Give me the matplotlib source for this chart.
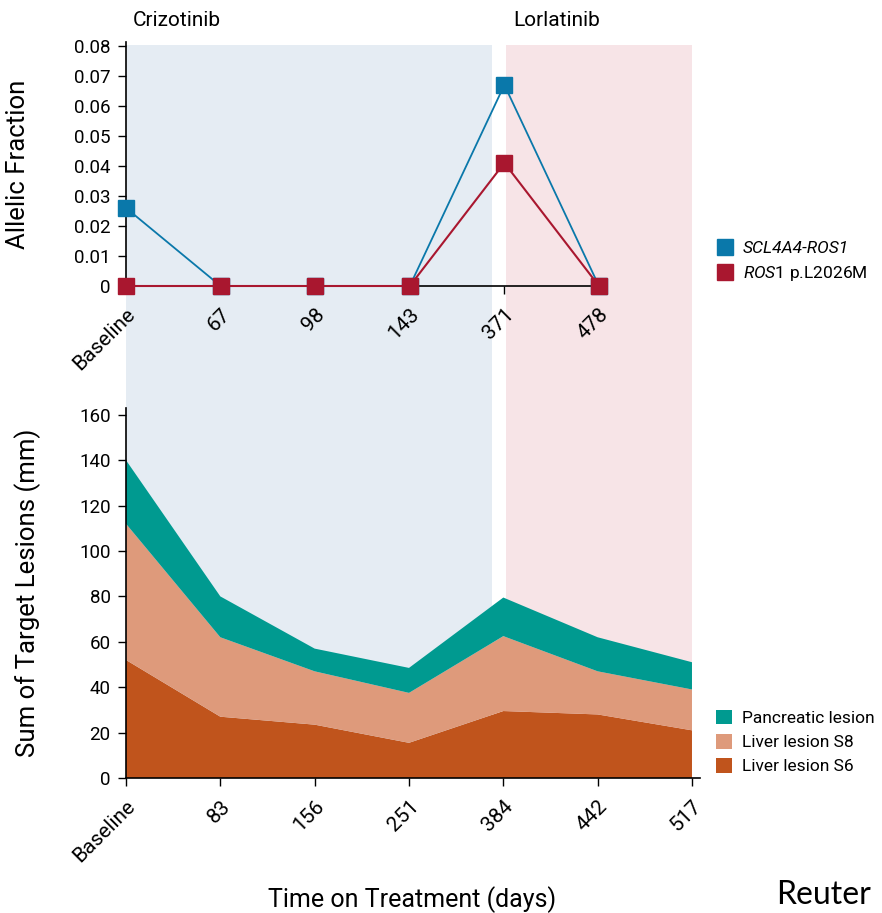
import matplotlib

matplotlib.use("Agg")
import matplotlib.pyplot as plt
from matplotlib.lines import Line2D
from matplotlib.patches import Patch, Rectangle
from matplotlib.transforms import blended_transform_factory

# ==========================================
# Data
# ==========================================
days_af = ["Baseline", "67", "98", "143", "371", "478"]
scl4a4_ros1 = [0.026, 0.0, 0.0, 0.0, 0.067, 0.0]
ros1_l2026m = [0.0, 0.0, 0.0, 0.0, 0.041, 0.0]
af_ticks = [0, 0.01, 0.02, 0.03, 0.04, 0.05, 0.06, 0.07, 0.08]

days_tl = ["Baseline", "83", "156", "251", "384", "442", "517"]
liver_s6 = [52, 27, 23.5, 15.5, 29.5, 28, 21]
liver_s8 = [60, 35, 23.5, 22, 33, 19, 18]
pancreatic = [28, 18, 10, 11, 17, 15, 12]
tl_ticks = [0, 20, 40, 60, 80, 100, 120, 140, 160]

# ==========================================
# Style
# ==========================================
BLUE = "#0a78aa"
RED = "#a9172f"
TEAL = "#009a90"
SALMON = "#de9a7b"
RUST = "#c0541c"
BAND_BLUE = "#e5ecf3"
BAND_PINK = "#f7e4e7"

plt.rcParams["font.family"] = ["Roboto", "DejaVu Sans"]
plt.rcParams["mathtext.fontset"] = "custom"
plt.rcParams["mathtext.rm"] = "Roboto"
plt.rcParams["mathtext.it"] = "Roboto:italic"

fig = plt.figure(figsize=(8.82, 9.13), dpi=100)

W, H = 882, 913
ax1 = fig.add_axes([126 / W, 1 - 286 / H, 481 / W, 244 / H])
ax2 = fig.add_axes([126 / W, 1 - 778 / H, 574 / W, 370 / H])

for ax in (ax1, ax2):
    ax.set_facecolor("none")
    for side in ("top", "right"):
        ax.spines[side].set_visible(False)
    for side in ("left", "bottom"):
        ax.spines[side].set_linewidth(1.2)
    ax.tick_params(axis="both", length=6, width=1, labelsize=13.5)
    ax.tick_params(axis="y", pad=5)
    ax.tick_params(axis="x", labelsize=15, pad=7.5)

# ==================== Treatment bands ====================
band_tr = blended_transform_factory(ax2.transData, fig.transFigure)
y0, y1 = 1 - 778 / H, 1 - 45 / H
fig.patches.append(Rectangle((0, y0), 3.88, y1 - y0, transform=band_tr,
                             facecolor=BAND_BLUE, edgecolor="none", zorder=-1))
fig.patches.append(Rectangle((4.03, y0), 6.0 - 4.03, y1 - y0, transform=band_tr,
                             facecolor=BAND_PINK, edgecolor="none", zorder=-1))

# ==================== Allelic fraction ====================
x1 = list(range(len(days_af)))
ax1.plot(x1, scl4a4_ros1, color=BLUE, lw=1.3, marker="s", ms=11,
         clip_on=False, zorder=3)
ax1.plot(x1, ros1_l2026m, color=RED, lw=1.5, marker="s", ms=11,
         clip_on=False, zorder=4)
ax1.set_xlim(0, 5.085)
ax1.set_ylim(0, 0.0813)
ax1.set_xticks(x1)
ax1.set_xticklabels(days_af)
ax1.set_yticks(af_ticks)
ax1.set_yticklabels([f"{v:g}" for v in af_ticks])
ax1.set_ylabel("Allelic Fraction", fontsize=18.5)
ax1.yaxis.set_label_coords(-0.2, 0.5)

# ==================== Target lesions ====================
x2 = list(range(len(days_tl)))
ax2.stackplot(x2, liver_s6, liver_s8, pancreatic,
              colors=[RUST, SALMON, TEAL], lw=0)
ax2.set_xlim(0, 6.085)
ax2.set_ylim(0, 163)
ax2.set_xticks(x2)
ax2.set_xticklabels(days_tl)
ax2.set_yticks(tl_ticks)
ax2.set_ylabel("Sum of Target Lesions (mm)", fontsize=18.5)
ax2.yaxis.set_label_coords(-0.148, 0.5)

for ax in (ax1, ax2):
    plt.setp(ax.get_xticklabels(), rotation=45, ha="right", va="top",
             rotation_mode="anchor")

# ==================== Legends ====================
h_af = [
    Line2D([], [], marker="s", ls="none", color=BLUE, ms=11.5),
    Line2D([], [], marker="s", ls="none", color=RED, ms=11.5),
]
leg1 = fig.legend(h_af, ["SCL4A4-ROS1", r"$\mathit{ROS1}$ p.L2026M"],
                  loc="center left", bbox_to_anchor=(716 / W, 1 - 262 / H),
                  frameon=False, fontsize=12.5, handlelength=1.0,
                  handletextpad=0.55, borderpad=0, borderaxespad=0,
                  labelspacing=0.45)
leg1.get_texts()[0].set_fontstyle("italic")

h_tl = [
    Patch(facecolor=TEAL, edgecolor="none"),
    Patch(facecolor=SALMON, edgecolor="none"),
    Patch(facecolor=RUST, edgecolor="none"),
]
fig.legend(h_tl, ["Pancreatic lesion", "Liver lesion S8", "Liver lesion S6"],
           loc="center left", bbox_to_anchor=(716 / W, 1 - 742 / H),
           frameon=False, fontsize=12.5, handlelength=0.95, handleheight=0.95,
           handletextpad=0.55, borderpad=0, borderaxespad=0, labelspacing=0.45)

# ==================== Texts ====================
fig.text(177 / W, 1 - 21 / H, "Crizotinib", fontsize=15, ha="center", va="center")
fig.text(557 / W, 1 - 21 / H, "Lorlatinib", fontsize=15, ha="center", va="center")
fig.text(412 / W, 1 - 886 / H, "Time on Treatment (days)", fontsize=18,
         ha="center", va="top")
fig.text(871 / W, 1 - 895 / H, "Reuter", fontsize=23, family="Lato",
         ha="right", va="center")

fig.savefig("out.png", dpi=100)
